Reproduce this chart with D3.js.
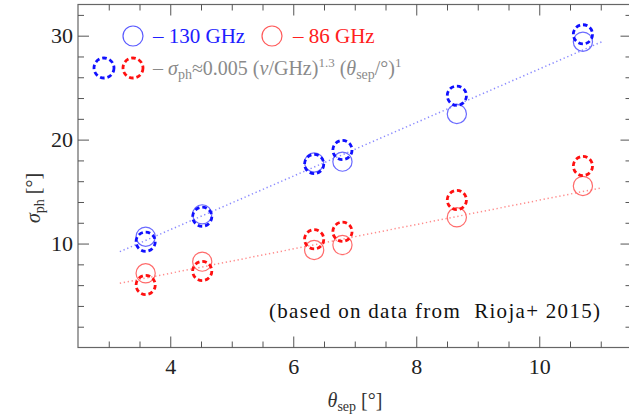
<!DOCTYPE html>
<html>
<head>
<meta charset="utf-8">
<script src="https://cdn.jsdelivr.net/npm/d3@7"></script>
<style>
  body { margin: 0; background: #fff; }
  .axis path { display: none; }
  .axis line { stroke: #555; stroke-width: 1; }
  text { font-family: 'Liberation Serif', serif; }
</style>
</head>
<body>
<div id="chart"></div>
<script>
'use strict';

// separation angles (deg)
var theta = [3.60, 4.52, 6.34, 6.80, 8.66, 10.71];
// measured phase rms, 130 GHz and 86 GHz
var data130 = [10.66, 12.81, 17.80, 17.88, 22.47, 29.42];
var data86  = [7.14, 8.26, 9.38, 9.86, 12.53, 15.54];
// model sigma_ph ~ 0.005 (nu/GHz)^1.3 theta
var model130 = [10.18, 12.58, 17.65, 19.00, 24.23, 30.13];
var model86  = [6.01, 7.36, 10.41, 11.14, 14.19, 17.46];
// dotted fit lines (end points)
var fitTheta = [3.18, 11.02];
var fit130 = [9.22, 29.42];
var fit86  = [6.18, 15.37];

var xTicks = [4, 6, 8, 10];
var yTicks = [10, 20, 30];

var chart = {};
chart.W = 629;
chart.H = 416;
chart.left = 78;
chart.right = 631.5;
chart.top = 4.5;
chart.bottom = 347.5;

chart.svg = d3.select('#chart').append('svg')
    .attr('width', chart.W)
    .attr('height', chart.H);

var x = d3.scaleLinear().domain([2.5, 11.5]).range([chart.left, chart.right]);
var y = d3.scaleLinear().domain([0, 33]).range([chart.bottom, chart.top]);

var svg = chart.svg;

// frame
svg.append('rect')
    .attr('x', chart.left).attr('y', chart.top)
    .attr('width', chart.right - chart.left)
    .attr('height', chart.bottom - chart.top)
    .attr('fill', 'none')
    .attr('stroke', '#666')
    .attr('stroke-width', 1.2);

var xMinor = d3.range(3, 11.6, 0.5).filter(function(v){ return xTicks.indexOf(v) < 0; });
var yMinor = d3.range(2, 33, 2).filter(function(v){ return yTicks.indexOf(v) < 0; });

function addAxis(axisFn, scale, ticks, size, transform, labels) {
    var a = axisFn(scale).tickValues(ticks).tickSize(-size);
    if (!labels) a.tickFormat('');
    var g = svg.append('g').attr('class', 'axis').attr('transform', transform).call(a);
    g.attr('font-family', null).attr('font-size', null);
    return g;
}

// bottom
var gx = addAxis(d3.axisBottom, x, xTicks, 11, 'translate(0,' + chart.bottom + ')', true);
gx.selectAll('text').attr('font-size', 22).attr('fill', '#222').attr('y', 11);
addAxis(d3.axisBottom, x, xMinor, 6, 'translate(0,' + chart.bottom + ')', false);
// top
addAxis(d3.axisTop, x, xTicks, 11, 'translate(0,' + chart.top + ')', false);
addAxis(d3.axisTop, x, xMinor, 6, 'translate(0,' + chart.top + ')', false);
// left
var gy = addAxis(d3.axisLeft, y, yTicks, 11, 'translate(' + chart.left + ',0)', true);
gy.selectAll('text').attr('font-size', 22).attr('fill', '#222').attr('x', -5);
addAxis(d3.axisLeft, y, yMinor, 6, 'translate(' + chart.left + ',0)', false);
// right
addAxis(d3.axisRight, y, yTicks, 11, 'translate(' + chart.right + ',0)', false);
addAxis(d3.axisRight, y, yMinor, 6, 'translate(' + chart.right + ',0)', false);

// axis titles
var xt = svg.append('text')
    .attr('x', 355).attr('y', 407)
    .attr('text-anchor', 'middle')
    .attr('font-size', 20).attr('fill', '#333');
xt.append('tspan').attr('font-style', 'italic').text('\u03b8');
xt.append('tspan').attr('font-size', 14).attr('dy', 4).text('sep');
xt.append('tspan').attr('dy', -4).text(' [\u00b0]');

var yt = svg.append('text')
    .attr('transform', 'translate(40,198) rotate(-90)')
    .attr('text-anchor', 'middle')
    .attr('font-size', 20).attr('fill', '#333');
yt.append('tspan').attr('font-style', 'italic').text('\u03c3');
yt.append('tspan').attr('font-size', 14).attr('dy', 4).text('ph');
yt.append('tspan').attr('dy', -4).text(' [\u00b0]');

// fit lines
var line = d3.line()
    .x(function(d){ return x(d[0]); })
    .y(function(d){ return y(d[1]); });

function fitLine(vals, color) {
    svg.append('path')
        .datum(fitTheta.map(function(t, i){ return [t, vals[i]]; }))
        .attr('d', line)
        .attr('fill', 'none')
        .attr('stroke', color)
        .attr('stroke-width', 1.5)
        .attr('stroke-dasharray', '1.3,2.7');
}
fitLine(fit130, '#8a8aff');
fitLine(fit86, '#ff8c8c');

function circles(vals, color, dashed) {
    svg.append('g').selectAll('circle')
        .data(theta.map(function(t, i){ return {t: t, v: vals[i]}; }))
        .enter()
        .append('circle')
        .attr('cx', function(d){ return x(d.t); })
        .attr('cy', function(d){ return y(d.v); })
        .attr('r', 9.6)
        .attr('fill', 'none')
        .attr('stroke', color)
        .attr('stroke-width', dashed ? 2.8 : 1.2)
        .attr('stroke-dasharray', dashed ? '4.6,2.9' : null);
}
circles(data86, '#ff6b6b', false);
circles(data130, '#6b6bff', false);
circles(model86, '#ff1010', true);
circles(model130, '#1010ff', true);

// legend
var leg = svg.append('g').attr('class', 'legend');
function legCircle(cx, cy, color, dashed) {
    leg.append('circle')
        .attr('cx', cx).attr('cy', cy).attr('r', 10)
        .attr('fill', 'none')
        .attr('stroke', color)
        .attr('stroke-width', dashed ? 2.8 : 1.2)
        .attr('stroke-dasharray', dashed ? '4.6,2.9' : null);
}
legCircle(133, 36, '#5a5aff', false);
leg.append('text').attr('x', 153).attr('y', 43).attr('font-size', 21)
    .attr('fill', '#2020ff').text('\u2013 130 GHz');
legCircle(272, 36, '#ff5a5a', false);
leg.append('text').attr('x', 293).attr('y', 43).attr('font-size', 21)
    .attr('fill', '#ff2020').text('\u2013 86 GHz');

legCircle(104, 68, '#1010ff', true);
legCircle(133, 68, '#ff1010', true);
var lt = leg.append('text').attr('x', 153).attr('y', 75).attr('font-size', 20)
    .attr('fill', '#8a8a8a');
lt.append('tspan').text('\u2013 ');
lt.append('tspan').attr('font-style', 'italic').text('\u03c3');
lt.append('tspan').attr('font-size', 14).attr('dy', 4).text('ph');
lt.append('tspan').attr('dy', -4).text('\u22480.005 (');
lt.append('tspan').attr('font-style', 'italic').text('\u03bd');
lt.append('tspan').text('/GHz)');
lt.append('tspan').attr('font-size', 13).attr('dy', -8).text('1.3');
lt.append('tspan').attr('dy', 8).text(' (');
lt.append('tspan').attr('font-style', 'italic').text('\u03b8');
lt.append('tspan').attr('font-size', 14).attr('dy', 4).text('sep');
lt.append('tspan').attr('dy', -4).text('/\u00b0)');
lt.append('tspan').attr('font-size', 13).attr('dy', -8).text('1');

// note
svg.append('text')
    .attr('x', 269).attr('y', 318)
    .attr('font-size', 21)
    .attr('fill', '#111')
    .attr('textLength', 331)
    .attr('lengthAdjust', 'spacing')
    .style('white-space', 'pre')
    .text('(based on data from  Rioja+ 2015)');
</script>
</body>
</html>
